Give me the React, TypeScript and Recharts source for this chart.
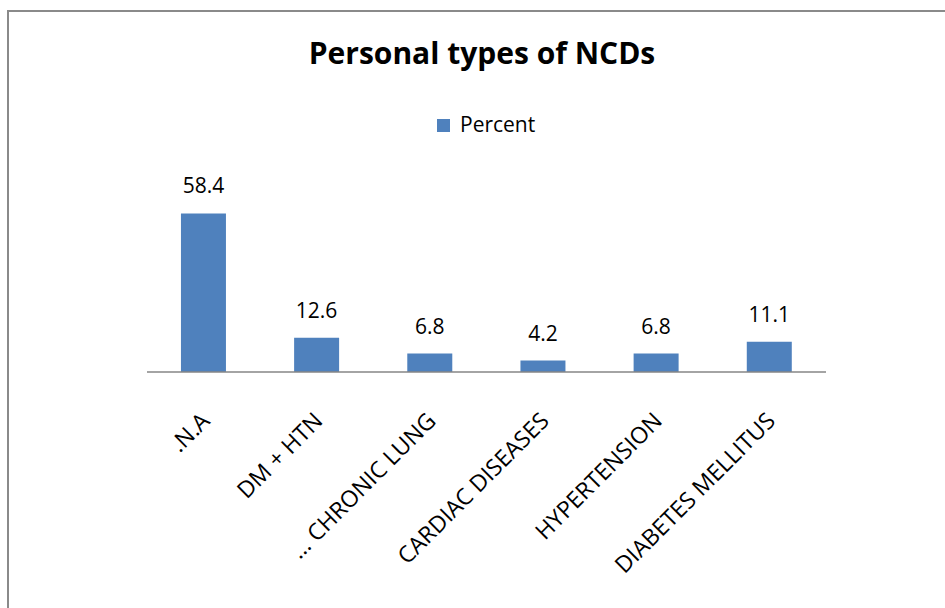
import { Bar, BarChart, LabelList, XAxis, YAxis } from "recharts";

const categories = [".N.A", "DM + HTN", "... CHRONIC LUNG", "CARDIAC DISEASES", "HYPERTENSION", "DIABETES MELLITUS"];
const percentValues = [58.4, 12.6, 6.8, 4.2, 6.8, 11.1];
const seriesName = "Percent";
const chartTitle = "Personal types of NCDs";

const data = categories.map((name, i) => ({ name, Percent: percentValues[i] }));

const FONT = "'Open Sans', 'Noto Sans', sans-serif";
const BLUE = "#4f81bd";

// rotated category label, anchored at its right end
const CategoryTick = (props: any) => {
  const { x, y, payload } = props;
  const tx = x + 1;
  const ty = y + 44;
  return (
    <text
      x={tx}
      y={ty}
      transform={`rotate(-45 ${tx} ${ty})`}
      textAnchor="end"
      dominantBaseline="central"
      fontFamily={FONT}
      fontSize={23}
      fill="#000"
    >
      {payload.value}
    </text>
  );
};

export default function App() {
  return (
    <div
      style={{
        position: "absolute",
        left: 7,
        top: 10,
        width: 938,
        height: 598,
        boxSizing: "border-box",
        borderLeft: "2px solid #8a8a8a",
        borderTop: "2px solid #8a8a8a",
        background: "#fff",
        fontFamily: FONT,
      }}
    >
      <div
        style={{
          position: "absolute",
          left: 0,
          width: 946,
          top: 26,
          textAlign: "center",
          fontSize: 30,
          lineHeight: "30px",
          fontWeight: 700,
          color: "#000",
        }}
      >
        {chartTitle}
      </div>
      <div style={{ position: "absolute", left: 428, top: 107, width: 13, height: 13, background: BLUE }} />
      <div
        style={{
          position: "absolute",
          left: 451,
          top: 102,
          fontSize: 21,
          lineHeight: "21px",
          color: "#000",
        }}
      >
        {seriesName}
      </div>
      <BarChart
        width={936}
        height={596}
        data={data}
        margin={{ top: 170, right: 119, left: 138, bottom: 0 }}
        barCategoryGap="30%"
      >
        <XAxis
          dataKey="name"
          height={236}
          interval={0}
          tickLine={false}
          tickSize={0}
          tickMargin={0}
          axisLine={{ stroke: "#868686", strokeWidth: 1.5 }}
          tick={<CategoryTick />}
        />
        <YAxis hide domain={[0, 70]} />
        <Bar dataKey="Percent" fill={BLUE} isAnimationActive={false}>
          <LabelList
            dataKey="Percent"
            position="top"
            offset={20}
            fontFamily={FONT}
            fontSize={21}
            fill="#000"
          />
        </Bar>
      </BarChart>
    </div>
  );
}
